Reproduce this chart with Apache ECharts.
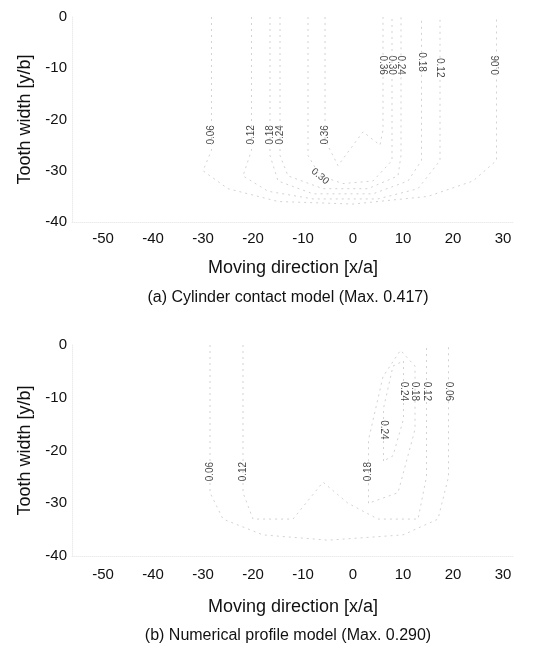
<!DOCTYPE html>
<html>
<head>
<meta charset="utf-8">
<script src="https://cdn.jsdelivr.net/npm/echarts@6/dist/echarts.min.js"></script>
<style>
  html, body { margin: 0; padding: 0; background: #fff; }
  #chart { width: 537px; height: 654px; }
</style>
</head>
<body>
<div id="chart"></div>
<script>
// axis ticks
const xTicks = [-50, -40, -30, -20, -10, 0, 10, 20, 30]
const yTicks = [0, -10, -20, -30, -40]

// (a) cylinder contact model - contour lines, [x, y]
const a006 = [[-28.3, 0], [-28.3, -26], [-30, -30], [-25, -33.5], [-15, -36], [0, -36.5], [15, -35], [24, -32], [28.7, -28], [28.7, -15], [28.7, 0]]
const a012 = [[-20.3, 0], [-20.3, -26], [-22, -31], [-17, -34], [-8, -35.5], [5, -35.5], [13, -33.5], [17.4, -28], [17.4, 0]]
const a018 = [[-16.6, 0], [-16.6, -27], [-15, -32], [-8, -34.5], [4, -34.5], [11, -32], [13.7, -28], [13.7, 0]]
const a024 = [[-14.6, 0], [-14.6, -27], [-13, -31], [-6, -33.5], [3, -33.5], [9, -31], [9.6, -27], [9.6, 0]]
const a030 = [[-9, 0], [-9, -27], [-6.6, -31], [-2, -32.5], [4, -32], [7.8, -28], [7.8, 0]]
const a036 = [[-5.6, 0], [-5.6, -24], [-3, -29], [2, -22.4], [5.4, -25], [6, -22], [6, 0]]

// (a) contour labels
const aLabX = [6, 7.8, 9.6, 13.7, 17.4, 28.7, -28.3, -20.3, -16.6, -14.6, -5.6, -6.6]
const aLabY = [-9.4, -9.4, -9.4, -8.8, -9.9, -9.4, -23, -23, -23, -23, -23, -31.1]
const aLabT = ['0.36', '0.30', '0.24', '0.18', '0.12', '0.06', '0.06', '0.12', '0.18', '0.24', '0.36', '0.30']
const aLabR = [-90, -90, -90, -90, -90, 90, 90, 90, 90, 90, 90, -40]

// (b) numerical profile model - contour lines
const b006 = [[-28.6, 0], [-28.6, -28], [-26, -33], [-18, -36], [-5, -37], [10, -36], [17, -33], [19.1, -25], [19.1, 0]]
const b012 = [[-22, 0], [-22, -28], [-20, -33], [-12, -33], [-6, -26], [-1, -30], [5, -33], [13, -33], [14.7, -25], [14.7, 0]]
const b018 = [[3.1, -30], [3.1, -18], [6, -6], [9.5, -1], [12.4, -4], [12.4, -16], [9, -28], [3.1, -30]]
const b024 = [[6.1, -22], [6.1, -12], [8, -4], [10.1, -3], [10.1, -14], [8, -21], [6.1, -22]]

// (b) contour labels
const bLabX = [10.1, 12.4, 14.7, 19.1, 6.1, -28.6, -22, 3.1]
const bLabY = [-8.8, -8.8, -8.8, -8.8, -16.1, -24, -24, -24]
const bLabT = ['0.24', '0.18', '0.12', '0.06', '0.24', '0.06', '0.12', '0.18']
const bLabR = [-90, -90, -90, -90, -90, 90, 90, 90]

const FONT = 'Liberation Sans, Arial, sans-serif'

const myChart = echarts.init(document.getElementById('chart'))

const makeX = (gridIndex, nameGap, margin) => ({
  gridIndex,
  type: 'value',
  min: -56.2,
  max: 32.2,
  name: 'Moving direction [x/a]',
  nameLocation: 'middle',
  nameGap,
  nameTextStyle: { fontFamily: FONT, fontSize: 18, color: '#111' },
  axisLine: { show: true, onZero: false, lineStyle: { color: '#ececec', type: 'dotted' } },
  axisTick: { show: false },
  splitLine: { show: false },
  axisLabel: { customValues: xTicks, margin, fontFamily: FONT, fontSize: 15, color: '#111' }
})

const makeY = (gridIndex) => ({
  gridIndex,
  type: 'value',
  min: -40,
  max: 0,
  name: 'Tooth width [y/b]',
  nameLocation: 'middle',
  nameGap: 34,
  nameRotate: 90,
  nameTextStyle: { fontFamily: FONT, fontSize: 18, color: '#111' },
  axisLine: { show: true, onZero: false, lineStyle: { color: '#ececec', type: 'dotted' } },
  axisTick: { show: false },
  splitLine: { show: false },
  axisLabel: { customValues: yTicks, margin: 5, fontFamily: FONT, fontSize: 15, color: '#111' }
})

const contour = (data, idx) => ({
  type: 'line',
  xAxisIndex: idx,
  yAxisIndex: idx,
  data,
  symbol: 'none',
  silent: true,
  lineStyle: { color: '#d2d2d2', width: 1, type: [2, 4] }
})

const labels = (xs, ys, ts, rs, idx) => ({
  type: 'scatter',
  xAxisIndex: idx,
  yAxisIndex: idx,
  symbolSize: 0,
  silent: true,
  data: xs.map((x, i) => ({
    value: [x, ys[i]],
    label: { rotate: rs[i], formatter: ts[i] }
  })),
  label: {
    show: true,
    position: 'inside',
    fontFamily: FONT,
    fontSize: 10,
    lineHeight: 9,
    color: '#111'
  }
})

myChart.setOption({
  backgroundColor: '#fff',
  animation: false,
  grid: [
    { left: 72, top: 17, width: 442, height: 205 },
    { left: 72, top: 345, width: 442, height: 211 }
  ],
  xAxis: [makeX(0, 37, 9), makeX(1, 42, 11)],
  yAxis: [makeY(0), makeY(1)],
  graphic: [
    {
      type: 'text', x: 288, y: 298,
      style: { text: '(a) Cylinder contact model (Max. 0.417)', font: '16px ' + FONT, fill: '#111', align: 'center', verticalAlign: 'middle' }
    },
    {
      type: 'text', x: 288, y: 636,
      style: { text: '(b) Numerical profile model (Max. 0.290)', font: '16px ' + FONT, fill: '#111', align: 'center', verticalAlign: 'middle' }
    }
  ],
  series: [
    contour(a006, 0), contour(a012, 0), contour(a018, 0),
    contour(a024, 0), contour(a030, 0), contour(a036, 0),
    labels(aLabX, aLabY, aLabT, aLabR, 0),
    contour(b006, 1), contour(b012, 1), contour(b018, 1), contour(b024, 1),
    labels(bLabX, bLabY, bLabT, bLabR, 1)
  ]
})

window.addEventListener('resize', myChart.resize)
</script>
</body>
</html>
